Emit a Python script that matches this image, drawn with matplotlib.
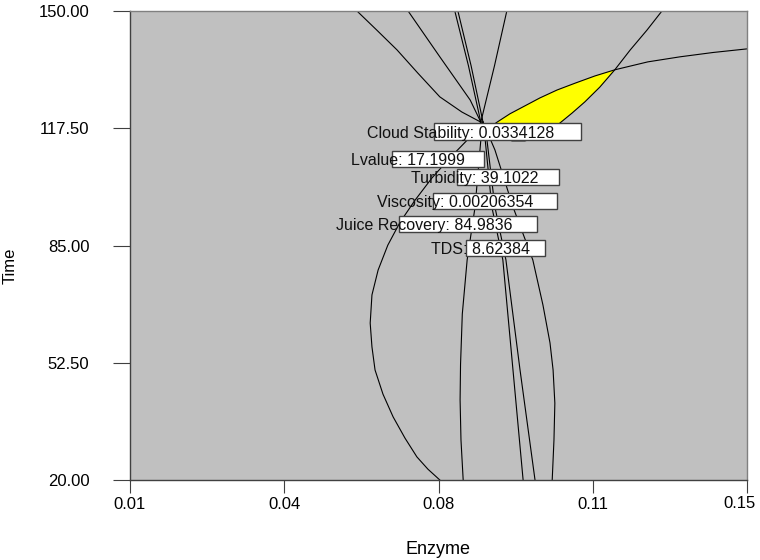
import matplotlib
matplotlib.use('Agg')
import matplotlib.pyplot as plt
from matplotlib.patches import Rectangle

plt.rcParams['font.family'] = ['Liberation Sans', 'DejaVu Sans']

# ---------------- data ----------------
x_ticks = [0.01, 0.045, 0.08, 0.115, 0.15]
x_tick_labels = ['0.01', '0.04', '0.08', '0.11', '0.15']
y_ticks = [20, 52.5, 85, 117.5, 150]
y_tick_labels = ['20.00', '52.50', '85.00', '117.50', '150.00']

# big contour on the left
c1_x = [0.0803, 0.0776, 0.0751, 0.0724, 0.0697, 0.0674, 0.0656, 0.0649, 0.0645, 0.0649,
        0.0663, 0.0685, 0.0713, 0.0747, 0.0785, 0.0826, 0.0865, 0.0896]
c1_y = [20.0, 23.0, 26.4, 31.6, 37.5, 43.8, 50.5, 56.9, 63.5, 71.3,
        78.2, 85.1, 91.5, 97.6, 103.7, 109.3, 114.2, 119.2]
# upper boundary of the yellow region, running to the right edge
c2_x = [0.0917, 0.0933, 0.0962, 0.0996, 0.1030, 0.1069, 0.1110, 0.1155, 0.1200,
        0.1275, 0.1348, 0.1423, 0.1500]
c2_y = [117.8, 119.2, 121.5, 123.7, 125.9, 128.1, 130.0, 132.0, 133.7,
        135.9, 137.3, 138.5, 139.5]
# right boundary of the yellow region, from the top edge down
c3_x = [0.1307, 0.1273, 0.1235, 0.1200, 0.1166, 0.1132, 0.1103, 0.1076, 0.1053, 0.1030,
        0.0996, 0.0967, 0.0940, 0.0917]
c3_y = [150.0, 144.7, 139.2, 133.7, 128.9, 124.8, 121.7, 119.0, 116.7, 115.1,
        114.0, 114.0, 115.1, 117.0]
# lines from the top edge to the flag point
la_x = [0.0615, 0.0660, 0.0706, 0.0753, 0.0803, 0.0853, 0.0896]
la_y = [150.0, 144.7, 139.2, 132.8, 126.2, 122.0, 119.2]
lb_x = [0.0731, 0.0803, 0.0872, 0.0896]
lb_y = [150.0, 137.3, 125.3, 119.2]
lc_x = [0.0837, 0.0868, 0.0896]
lc_y = [150.0, 134.8, 119.2]
ld_x = [0.0844, 0.0874, 0.0901]
ld_y = [150.0, 134.8, 119.2]
le_x = [0.0955, 0.0927, 0.0896]
le_y = [150.0, 134.8, 119.2]
# lines from the bottom edge to the flag point
lf_x = [0.0856, 0.0851, 0.0849, 0.0850, 0.0854, 0.0865, 0.0883, 0.0896, 0.0901]
lf_y = [20.0, 31.1, 42.2, 52.0, 66.0, 81.0, 95.7, 114.2, 119.2]
lg_x = [0.0992, 0.0969, 0.0946, 0.0921, 0.0906, 0.0899]
lg_y = [20.0, 50.5, 81.0, 95.7, 114.2, 119.2]
lh_x = [0.1019, 0.0985, 0.0953, 0.0928, 0.0910, 0.0901]
lh_y = [20.0, 50.5, 81.0, 95.7, 114.2, 119.2]
li_x = [0.1058, 0.1062, 0.1064, 0.1060, 0.1053, 0.1037, 0.1014, 0.0969, 0.0928, 0.0901]
li_y = [20.0, 31.1, 41.3, 50.5, 58.0, 68.5, 81.0, 95.7, 111.5, 119.2]

label_names = ['Cloud Stability', 'Lvalue', 'Turbidity', 'Viscosity', 'Juice Recovery', 'TDS']
label_values = ['0.0334128', '17.1999', '39.1022', '0.00206354', '84.9836', '8.62384']

# ---------------- layout (pixels from top-left) ----------------
W, H = 760, 560
def fx(px):
    return px / W
def fy(py):
    return 1 - py / H

text_left = [367, 351, 411, 377, 336, 431]
text_base = [138, 165, 183, 207, 230, 254]
boxes = [(434, 123, 581, 140), (392, 151, 484, 167), (457, 169, 559, 185),
         (433, 193, 557, 209), (399, 216, 537, 232), (466, 240, 545, 256)]

fig = plt.figure(figsize=(W / 100, H / 100), dpi=100)
ax = fig.add_axes([fx(130), fy(480), (747 - 130) / W, (480 - 11) / H])
ax.set_facecolor('#C0C0C0')
ax.set_xlim(0.01, 0.15)
ax.set_ylim(20, 150)

# yellow feasible region
i_int = c2_x.index(0.1200)
j_int = c3_x.index(0.1200)
yellow_x = c2_x[:i_int + 1] + c3_x[j_int + 1:]
yellow_y = c2_y[:i_int + 1] + c3_y[j_int + 1:]
ax.fill(yellow_x, yellow_y, color='#FFFF00', lw=0, zorder=1)

for xs, ys in [(c1_x, c1_y), (c2_x, c2_y), (c3_x, c3_y), (la_x, la_y), (lb_x, lb_y),
               (lc_x, lc_y), (ld_x, ld_y), (le_x, le_y), (lf_x, lf_y), (lg_x, lg_y),
               (lh_x, lh_y), (li_x, li_y)]:
    ax.plot(xs, ys, color='black', lw=0.8, zorder=2, solid_joinstyle='round')

ax.set_xticks(x_ticks)
ax.set_xticklabels(x_tick_labels[:-1] + [''])
ax.set_yticks(y_ticks)
ax.set_yticklabels(y_tick_labels)
ax.tick_params(axis='x', length=13 * 0.72, width=0.8, pad=3, labelsize=12, color='#404040')
ax.tick_params(axis='y', length=17 * 0.72, width=0.8, pad=17, labelsize=12, color='#404040')
# last x tick label is nudged left to stay inside the figure
fig.text(fx(740), fy(503), x_tick_labels[-1], fontsize=12, ha='center', va='center')
for s in ['left', 'bottom']:
    ax.spines[s].set_color('#404040')
    ax.spines[s].set_linewidth(1.0)
for s in ['top', 'right']:
    ax.spines[s].set_color('#808080')
    ax.spines[s].set_linewidth(1.0)

# flag labels
for name, val, tl, tb, (bx0, by0, bx1, by1) in zip(label_names, label_values, text_left, text_base, boxes):
    r = Rectangle((fx(bx0), fy(by1)), (bx1 - bx0) / W, (by1 - by0) / H,
                  transform=fig.transFigure, facecolor='white', edgecolor='#404040',
                  lw=1.0, zorder=5)
    fig.add_artist(r)
    fig.text(fx(tl), fy(tb), f'{name}: {val}', fontsize=11.5, ha='left', va='baseline',
             color='#111111', zorder=6)

fig.text(fx(438), fy(549), 'Enzyme', fontsize=13, ha='center', va='center')
fig.text(fx(10), fy(266), 'Time', fontsize=12, ha='center', va='center', rotation=90)

fig.savefig('out.png', dpi=100)
